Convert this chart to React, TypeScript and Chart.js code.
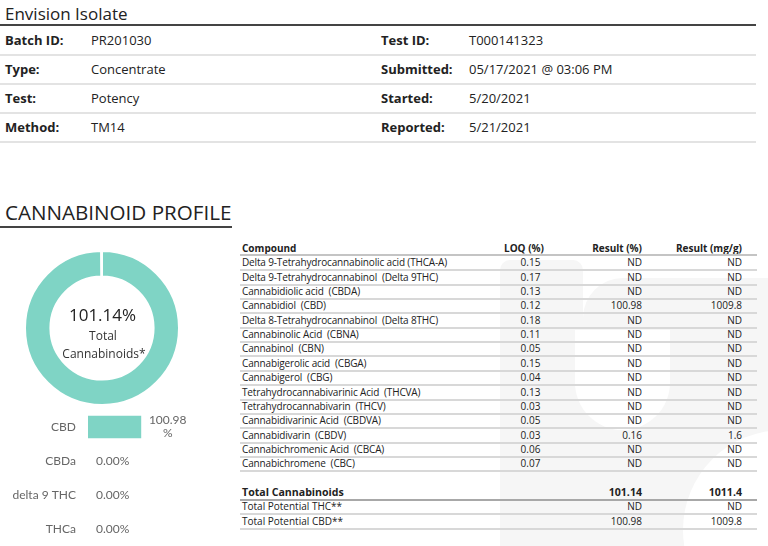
import React, { useEffect, useRef } from "react";
import { Chart, registerables } from "chart.js";
Chart.register(...registerables);

const reportTitle = "Envision Isolate";
const sectionTitle = "CANNABINOID PROFILE";
const infoLeftLabels = ["Batch ID:", "Type:", "Test:", "Method:"];
const infoLeftValues = ["PR201030", "Concentrate", "Potency", "TM14"];
const infoRightLabels = ["Test ID:", "Submitted:", "Started:", "Reported:"];
const infoRightValues = ["T000141323", "05/17/2021 @ 03:06 PM", "5/20/2021", "5/21/2021"];

const tableHeaders = ["Compound", "LOQ (%)", "Result (%)", "Result (mg/g)"];
const compounds = [
  "Delta 9-Tetrahydrocannabinolic acid (THCA-A)",
  "Delta 9-Tetrahydrocannabinol  (Delta 9THC)",
  "Cannabidiolic acid  (CBDA)",
  "Cannabidiol  (CBD)",
  "Delta 8-Tetrahydrocannabinol  (Delta 8THC)",
  "Cannabinolic Acid  (CBNA)",
  "Cannabinol  (CBN)",
  "Cannabigerolic acid  (CBGA)",
  "Cannabigerol  (CBG)",
  "Tetrahydrocannabivarinic Acid  (THCVA)",
  "Tetrahydrocannabivarin  (THCV)",
  "Cannabidivarinic Acid  (CBDVA)",
  "Cannabidivarin  (CBDV)",
  "Cannabichromenic Acid  (CBCA)",
  "Cannabichromene  (CBC)",
];
const loq = ["0.15", "0.17", "0.13", "0.12", "0.18", "0.11", "0.05", "0.15", "0.04", "0.13", "0.03", "0.05", "0.03", "0.06", "0.07"];
const resultPct = ["ND", "ND", "ND", "100.98", "ND", "ND", "ND", "ND", "ND", "ND", "ND", "ND", "0.16", "ND", "ND"];
const resultMg = ["ND", "ND", "ND", "1009.8", "ND", "ND", "ND", "ND", "ND", "ND", "ND", "ND", "1.6", "ND", "ND"];

const totalLabels = ["Total Cannabinoids", "Total Potential THC**", "Total Potential CBD**"];
const totalPct = ["101.14", "ND", "100.98"];
const totalMg = ["1011.4", "ND", "1009.8"];

const donutCenterValue = "101.14%";
const donutCenterLines = ["Total", "Cannabinoids*"];

const barLabels = ["CBD", "CBDa", "delta 9 THC", "THCa"];
const barValues = [100.98, 0, 0, 0];

const TEAL = "#7fd4c5";
const FONT = "'Open Sans', sans-serif";

function Txt(props: { x: number; cy: number; text: string; size: number; bold?: boolean; align?: "left" | "right" | "center"; color?: string; h?: number; ls?: number }) {
  const h = props.h ?? 20;
  const align = props.align ?? "left";
  const style: any = {
    position: "absolute",
    top: props.cy - h / 2,
    height: h,
    lineHeight: h + "px",
    fontSize: props.size,
    fontWeight: props.bold ? 700 : 400,
    color: props.color ?? "#222",
    whiteSpace: "pre",
    fontFamily: FONT,
    letterSpacing: (props.ls ?? 0) + "px",
  };
  if (align === "left") style.left = props.x;
  else if (align === "right") style.right = 768 - props.x;
  else { style.left = props.x - 100; style.width = 200; style.textAlign = "center"; }
  return <div style={style}>{props.text}</div>;
}

function Line(props: { x: number; y: number; w: number; h: number; color: string }) {
  return <div style={{ position: "absolute", left: props.x, top: props.y, width: props.w, height: props.h, background: props.color }} />;
}

const valueLabelPlugin = {
  id: "valueLabels",
  afterDatasetsDraw(chart: any) {
    const ctx = chart.ctx;
    const meta = chart.getDatasetMeta(0);
    ctx.save();
    ctx.font = "12px Lato, sans-serif";
    ctx.fillStyle = "#666";
    ctx.textAlign = "center";
    ctx.textBaseline = "middle";
    meta.data.forEach((bar: any, i: number) => {
      const v = chart.data.datasets[0].data[i] as number;
      const full = v.toFixed(2) + "%";
      const lines = ctx.measureText(full).width > 36 ? [v.toFixed(2), "%"] : [full];
      const bw = Math.max(...lines.map((l: string) => ctx.measureText(l).width));
      const cx = bar.x + 8 + bw / 2;
      const lh = 13;
      const startY = bar.y - ((lines.length - 1) * lh) / 2;
      lines.forEach((l: string, j: number) => ctx.fillText(l, cx, startY + j * lh));
    });
    ctx.restore();
  },
};

export default function App() {
  const donutRef = useRef<HTMLCanvasElement>(null);
  const barRef = useRef<HTMLCanvasElement>(null);

  useEffect(() => {
    const donutLabels: string[] = [];
    const donutValues: number[] = [];
    compounds.forEach((c, i) => {
      const v = parseFloat(resultPct[i]);
      if (!isNaN(v) && v > 0) {
        donutLabels.push(c);
        donutValues.push(v);
      }
    });
    const donut = new Chart(donutRef.current!, {
      type: "doughnut",
      data: {
        labels: donutLabels,
        datasets: [{ data: donutValues, backgroundColor: TEAL, borderColor: "#fff", borderWidth: 2 }],
      },
      options: {
        animation: false,
        responsive: false,
        cutout: "67%",
        layout: { padding: 0 },
        plugins: { legend: { display: false }, tooltip: { enabled: false } },
      },
    });

    const bar = new Chart(barRef.current!, {
      type: "bar",
      data: {
        labels: barLabels,
        datasets: [{
          data: barValues,
          backgroundColor: (c: any) => (c.raw > 0 ? TEAL : "rgba(0,0,0,0)"),
          barThickness: 22,
        }],
      },
      options: {
        indexAxis: "y",
        animation: false,
        responsive: false,
        layout: { padding: 0 },
        plugins: { legend: { display: false }, tooltip: { enabled: false } },
        scales: {
          x: { display: false, min: 0, max: 275 },
          y: {
            afterFit: (s: any) => {
              s.width = 88;
              s.paddingTop = 0;
              s.paddingBottom = 0;
            },
            grid: { display: false, drawTicks: false },
            border: { display: false },
            ticks: { padding: 12, color: "#666", font: { family: "Lato", size: 12 } },
          },
        },
      },
      plugins: [valueLabelPlugin],
    });

    return () => {
      donut.destroy();
      bar.destroy();
    };
  }, []);

  const rowCy = (i: number) => 262.3 + i * 14.36;
  const W0 = "#f6f6f6";

  return (
    <div style={{ position: "absolute", left: 0, top: 0, width: 768, height: 546, overflow: "hidden", background: "#fff", fontFamily: FONT }}>
      {/* watermark */}
      <div style={{ position: "absolute", left: 500, top: 260, width: 83, height: 290, background: W0, borderRadius: "10px 10px 0 0" }} />
      <div style={{ position: "absolute", left: 583, top: 278, width: 190, height: 270, background: W0, borderTopLeftRadius: 40 }} />
      <div style={{ position: "absolute", left: 575, top: 330, width: 95, height: 100, background: "#fff", borderRadius: "0 0 50px 50px" }} />
      <div style={{ position: "absolute", left: 683, top: 430, width: 200, height: 200, background: "#fff", borderRadius: "50%" }} />

      <Txt x={5} cy={13.5} text={reportTitle} size={17} color="#222" h={26} />
      <Line x={0} y={24} w={756} h={2} color="#444" />
      {infoLeftLabels.map((l, i) => (
        <React.Fragment key={"il" + i}>
          <Txt x={5} cy={40 + i * 29} text={l} size={13} bold />
          <Txt x={91} cy={40 + i * 29} text={infoLeftValues[i]} size={13} />
          <Txt x={381} cy={40 + i * 29} text={infoRightLabels[i]} size={13} bold />
          <Txt x={469} cy={40 + i * 29} text={infoRightValues[i]} size={13} />
          <Line x={0} y={54 + i * 29} w={756} h={2} color="#e3e3e3" />
        </React.Fragment>
      ))}

      <Txt x={5} cy={212} text={sectionTitle} size={20.6} color="#222" h={28} />
      <Line x={0} y={226} w={232} h={2} color="#444" />

      <canvas ref={donutRef} width={156} height={156} style={{ position: "absolute", left: 24, top: 250, width: 156, height: 156 }} />
      <Txt x={102.5} cy={315} text={donutCenterValue} size={17} align="center" color="#222" h={24} />
      <Txt x={103} cy={336} text={donutCenterLines[0]} size={12} align="center" color="#333" />
      <Txt x={104} cy={353.5} text={donutCenterLines[1]} size={12} align="center" color="#333" />

      <canvas ref={barRef} width={232} height={136} style={{ position: "absolute", left: 0, top: 410, width: 232, height: 136 }} />

      {/* table */}
      <Txt x={242} cy={248} text={tableHeaders[0]} size={10} bold />
      <Txt x={504} cy={248} text={tableHeaders[1]} size={10} bold />
      <Txt x={642} cy={248} text={tableHeaders[2]} size={10} bold align="right" />
      <Txt x={742} cy={248} text={tableHeaders[3]} size={10} bold align="right" />
      <Line x={240} y={254} w={517} h={2} color="#c4c4c4" />
      {compounds.map((c, i) => (
        <React.Fragment key={"r" + i}>
          <Txt x={242} cy={rowCy(i)} text={c} size={10} h={14} ls={-0.15} />
          <Txt x={530.5} cy={rowCy(i)} text={loq[i]} size={10} align="center" h={14} />
          <Txt x={642} cy={rowCy(i)} text={resultPct[i]} size={10} align="right" h={14} />
          <Txt x={742} cy={rowCy(i)} text={resultMg[i]} size={10} align="right" h={14} />
          <Line x={240} y={Math.round(rowCy(i) + 7)} w={517} h={2} color="#d8d8d8" />
        </React.Fragment>
      ))}

      <Txt x={242} cy={491.5} text={totalLabels[0]} size={10.6} bold h={16} />
      <Txt x={642} cy={491.5} text={totalPct[0]} size={10.6} bold align="right" h={16} />
      <Txt x={742} cy={491.5} text={totalMg[0]} size={10.6} bold align="right" h={16} />
      <Line x={240} y={499} w={517} h={2} color="#a8a8a8" />
      {[1, 2].map((k) => (
        <React.Fragment key={"t" + k}>
          <Txt x={242} cy={506 + (k - 1) * 14.5} text={totalLabels[k]} size={10} h={14} />
          <Txt x={642} cy={506 + (k - 1) * 14.5} text={totalPct[k]} size={10} align="right" h={14} />
          <Txt x={742} cy={506 + (k - 1) * 14.5} text={totalMg[k]} size={10} align="right" h={14} />
          <Line x={240} y={513 + (k - 1) * 14.5} w={517} h={2} color="#d8d8d8" />
        </React.Fragment>
      ))}
    </div>
  );
}
